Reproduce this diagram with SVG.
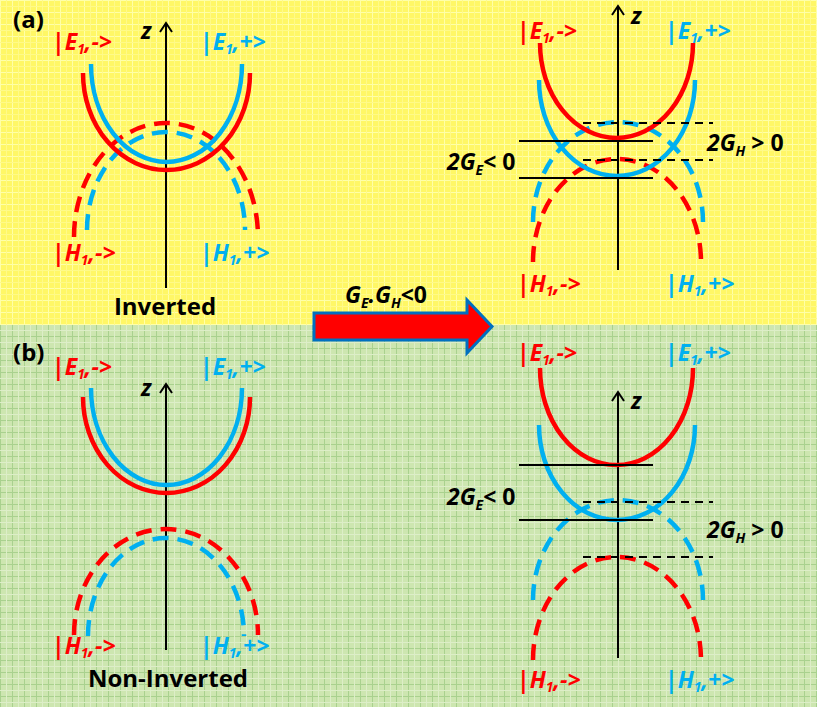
<svg xmlns="http://www.w3.org/2000/svg" width="817" height="707" viewBox="0 0 817 707">
<style>
.lbl{font-family:"Open Sans","Liberation Sans",sans-serif;font-weight:bold;font-style:italic;font-size:23px}
.sub{font-size:14px}
.up{font-style:normal}
.blk{font-family:"Open Sans","Liberation Sans",sans-serif;font-weight:bold;font-size:24px;fill:#000}
.red{fill:#FF0000}
.blue{fill:#00B0F0}
.sr{fill:none;stroke:#FF0000;stroke-width:4.5}
.sb{fill:none;stroke:#00B0F0;stroke-width:4.5}
.dr{fill:none;stroke:#FF0000;stroke-width:4.5;stroke-dasharray:16 9}
.db{fill:none;stroke:#00B0F0;stroke-width:4.5;stroke-dasharray:16 9}
.ax{fill:none;stroke:#000;stroke-width:2}
.lv{fill:none;stroke:#000;stroke-width:2}
.lvd{fill:none;stroke:#000;stroke-width:2;stroke-dasharray:8 6}
</style>
<defs>
<pattern id="py" width="12" height="12" patternUnits="userSpaceOnUse">
<rect width="12" height="12" fill="#FFF766"/>
<rect width="12" height="1" fill="#FFFFA8"/>
<rect width="1" height="12" fill="#FFFFA8"/>
<rect x="6" width="1" height="12" fill="#FFFA88"/>
<rect y="6" width="12" height="1" fill="#FFFA88"/>
</pattern>
<pattern id="pg" width="12" height="12" patternUnits="userSpaceOnUse">
<rect width="12" height="12" fill="#CDE6B0"/>
<rect width="12" height="1" fill="#A9D18E"/>
<rect width="1" height="12" fill="#A9D18E"/>
<rect x="6" width="1" height="12" fill="#DDEEC8"/>
<rect y="6" width="12" height="1" fill="#DDEEC8"/>
</pattern>
</defs>
<rect x="0" y="0" width="817" height="325" fill="url(#py)"/>
<rect x="0" y="325" width="817" height="382" fill="url(#pg)"/>

<g id="panel-a-inverted">
<text x="13" y="28" class="blk">(a)</text>
<path class="ax" d="M166,288 V23 M160,32 L166,23 L172,32"/>
<text x="141" y="39" class="lbl" fill="#000">z</text>
<path class="dr" d="M74,237 A92 114 0 0 1 258,237"/>
<path class="db" d="M87,230 A79 98 0 0 1 245,230"/>
<path class="sr" d="M83,73 A83.5 97 0 0 0 250,73"/>
<path class="sb" d="M91,64 A75.5 98 0 0 0 242,64"/>
<text x="52" y="50" class="lbl red">|E<tspan class="sub" dy="4">1</tspan><tspan dy="-4">,-&gt;</tspan></text>
<text x="200" y="50" class="lbl blue">|E<tspan class="sub" dy="4">1</tspan><tspan dy="-4">,+&gt;</tspan></text>
<text x="52" y="261" class="lbl red">|H<tspan class="sub" dy="4">1</tspan><tspan dy="-4">,-&gt;</tspan></text>
<text x="200" y="261" class="lbl blue">|H<tspan class="sub" dy="4">1</tspan><tspan dy="-4">,+&gt;</tspan></text>
<text x="165" y="315" class="blk" text-anchor="middle">Inverted</text>
</g>

<g id="panel-a-split">
<path class="ax" d="M618,270 V6 M612,15 L618,6 L624,15"/>
<text x="631" y="24" class="lbl" fill="#000">z</text>
<path class="dr" d="M533,262 A84 103 0 0 1 701,262"/>
<path class="db" d="M533,222 A85 100 0 0 1 703,222"/>
<path class="sr" d="M540,43 A76.5 95 0 0 0 693,43"/>
<path class="sb" d="M539,80 A78 96 0 0 0 695,80"/>
<path class="lv" d="M519,141 H653 M519,178 H653"/>
<path class="lvd" d="M583,123 H713 M583,160 H713"/>
<text x="517" y="39" class="lbl red">|E<tspan class="sub" dy="4">1</tspan><tspan dy="-4">,-&gt;</tspan></text>
<text x="665" y="39" class="lbl blue">|E<tspan class="sub" dy="4">1</tspan><tspan dy="-4">,+&gt;</tspan></text>
<text x="517" y="292" class="lbl red">|H<tspan class="sub" dy="4">1</tspan><tspan dy="-4">,-&gt;</tspan></text>
<text x="665" y="292" class="lbl blue">|H<tspan class="sub" dy="4">1</tspan><tspan dy="-4">,+&gt;</tspan></text>
<text x="447" y="170" class="lbl" fill="#000">2G<tspan class="sub" dy="5">E</tspan><tspan class="up" dy="-5">&lt; 0</tspan></text>
<text x="707" y="151" class="lbl" fill="#000">2G<tspan class="sub" dy="5">H</tspan><tspan class="up" dy="-5"> &gt; 0</tspan></text>
</g>

<g id="panel-b-noninverted">
<text x="13" y="361" class="blk">(b)</text>
<path class="ax" d="M166,650 V384 M160,393 L166,384 L172,393"/>
<text x="141" y="396" class="lbl" fill="#000">z</text>
<path class="dr" d="M74,635 A92 106 0 0 1 258,635"/>
<path class="db" d="M88,636 A78 98 0 0 1 244,636"/>
<path class="sr" d="M83,397 A83.5 96 0 0 0 250,397"/>
<path class="sb" d="M91,388 A75.5 97 0 0 0 242,388"/>
<text x="52" y="375" class="lbl red">|E<tspan class="sub" dy="4">1</tspan><tspan dy="-4">,-&gt;</tspan></text>
<text x="200" y="375" class="lbl blue">|E<tspan class="sub" dy="4">1</tspan><tspan dy="-4">,+&gt;</tspan></text>
<text x="52" y="654" class="lbl red">|H<tspan class="sub" dy="4">1</tspan><tspan dy="-4">,-&gt;</tspan></text>
<text x="200" y="654" class="lbl blue">|H<tspan class="sub" dy="4">1</tspan><tspan dy="-4">,+&gt;</tspan></text>
<text x="168" y="687" class="blk" text-anchor="middle">Non-Inverted</text>
</g>

<g id="panel-b-split">
<path class="ax" d="M618,658 V392 M612,401 L618,392 L624,401"/>
<text x="631" y="409" class="lbl" fill="#000">z</text>
<path class="dr" d="M533,660 A84 103 0 0 1 701,660"/>
<path class="db" d="M533,600 A85 100 0 0 1 703,600"/>
<path class="sr" d="M540,368 A76.5 97 0 0 0 693,368"/>
<path class="sb" d="M539,425 A78 95 0 0 0 695,425"/>
<path class="lv" d="M519,465 H653 M519,520 H653"/>
<path class="lvd" d="M583,502 H713 M583,557 H713"/>
<text x="517" y="361" class="lbl red">|E<tspan class="sub" dy="4">1</tspan><tspan dy="-4">,-&gt;</tspan></text>
<text x="665" y="361" class="lbl blue">|E<tspan class="sub" dy="4">1</tspan><tspan dy="-4">,+&gt;</tspan></text>
<text x="517" y="688" class="lbl red">|H<tspan class="sub" dy="4">1</tspan><tspan dy="-4">,-&gt;</tspan></text>
<text x="665" y="688" class="lbl blue">|H<tspan class="sub" dy="4">1</tspan><tspan dy="-4">,+&gt;</tspan></text>
<text x="447" y="505" class="lbl" fill="#000">2G<tspan class="sub" dy="5">E</tspan><tspan class="up" dy="-5">&lt; 0</tspan></text>
<text x="707" y="538" class="lbl" fill="#000">2G<tspan class="sub" dy="5">H</tspan><tspan class="up" dy="-5"> &gt; 0</tspan></text>
</g>

<g id="connectors">
<path d="M314,313 H467 V300 L492,326.5 L467,353 V340 H314 Z" fill="#FF0000" stroke="#0070C0" stroke-width="3" stroke-linejoin="miter"/>
<text x="345" y="303" class="lbl" fill="#000">G<tspan class="sub" dy="5">E</tspan><tspan dy="-5">.G</tspan><tspan class="sub" dy="5">H</tspan><tspan class="up" dy="-5">&lt;0</tspan></text>
</g>
</svg>
